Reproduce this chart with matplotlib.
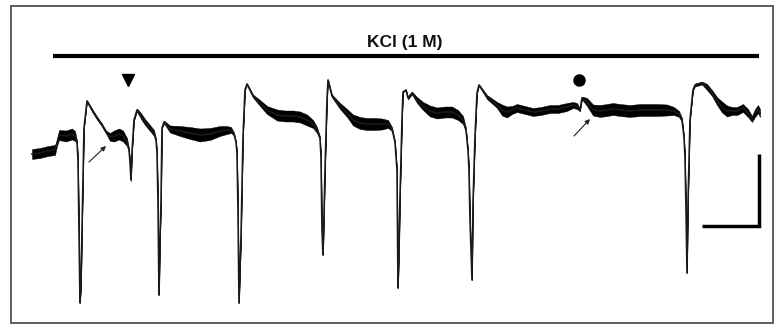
import matplotlib
matplotlib.use("Agg")
import matplotlib.pyplot as plt
from matplotlib.patches import Rectangle
import numpy as np

# ---- data (trace; y axis grows downward) ----
t = [32, 40, 48, 55, 57, 59, 66, 72, 75, 77, 78, 79, 80, 81, 82, 84, 87, 92, 97, 102,
     106, 110, 114, 119, 123, 127, 129, 130, 131, 132, 134, 137, 141, 145, 150, 154, 156,
     157, 158, 159, 160, 161, 162, 164, 170, 180, 190, 200, 210, 220, 227, 231, 234, 236,
     237, 238, 239, 240, 241, 243, 245, 247, 253, 260, 267, 277, 285, 293, 300, 307, 313,
     317, 320, 321, 322, 323, 324, 325, 327, 328, 332, 340, 347, 353, 360, 367, 375, 382,
     388, 392, 395, 397, 398, 399, 400, 402, 403, 406, 408, 412, 417, 423, 430, 437, 445,
     452, 458, 463, 466, 468, 469, 470, 472, 473, 475, 477, 479, 487, 497, 502, 507, 512,
     517, 525, 533, 541, 550, 558, 567, 573, 577, 580, 582, 587, 593, 600, 607, 613, 620,
     630, 640, 647, 657, 667, 674, 679, 682, 684, 685, 686, 687, 688, 689, 690, 693, 695,
     702, 707, 712, 717, 722, 727, 732, 737, 743, 748, 752, 755, 758, 760]
v = [154, 153, 151, 150, 143, 135, 136, 134, 136, 142, 160, 230, 303, 285, 230, 128, 101, 110, 118, 125,
     132, 137, 136, 134, 136, 142, 150, 162, 180, 152, 120, 110, 116, 122, 128, 133, 140,
     152, 202, 295, 240, 202, 128, 122, 129, 131, 133, 135, 134, 131, 130, 130, 134, 142,
     153, 210, 303, 270, 237, 137, 90, 84, 96, 103, 110, 115, 116, 116, 117, 120, 124,
     130, 138, 157, 230, 255, 215, 170, 100, 80, 96, 106, 113, 120, 123, 124, 124, 124,
     124, 129, 142, 170, 288, 250, 197, 120, 92, 90, 98, 93, 100, 106, 111, 113, 112,
     112, 115, 120, 130, 150, 170, 220, 280, 203, 137, 93, 85, 97, 105, 110, 112, 110,
     108, 110, 112, 111, 109, 109, 107, 105, 106, 110, 98, 102, 110, 111, 110, 109, 110,
     111, 110, 110, 110, 110, 111, 114, 120, 137, 157, 210, 273, 203, 160, 120, 90, 85,
     83, 87, 93, 101, 107, 111, 111, 111, 108, 113, 119, 113, 109, 113]
noise = [5, 5, 5, 5, 3, 5, 5.5, 5.5, 5, 1.5, 0, 0, 0, 0, 0, 0, 0.8, 1.5, 1.5, 1.5,
         1.5, 4, 5.5, 5.5, 5.5, 4, 1.5, 1.5, 1.5, 0.8, 0.8, 1.5, 3, 3, 3, 3, 1.5,
         0, 0, 0, 0, 0, 0, 1.5, 3.5, 5, 6, 6.5, 6, 5, 4, 3, 1.5, 0.8,
         0, 0, 0, 0, 0, 0, 0, 0.8, 1.5, 3, 4, 5.5, 5.5, 5.5, 5.5, 5.5, 4,
         3, 1.5, 0, 0, 0, 0, 0, 0, 0.8, 1.5, 3, 4, 5.5, 6, 6, 6, 5.5,
         4, 2, 0.8, 0, 0, 0, 0, 0, 0, 0.8, 1.5, 1.5, 3, 4, 5.5, 5.5, 5.5,
         5.5, 5, 4, 2, 0, 0, 0, 0, 0, 0, 0, 0.8, 2, 3, 5.5, 5.5, 4,
         4, 4, 4, 4, 4, 4, 4, 3, 3, 1.5, 1.5, 4, 5.5, 6, 6, 6, 6,
         6, 6, 6, 6, 5.5, 4, 3, 2, 0.8, 0, 0, 0, 0, 0, 0, 0.8, 1.5,
         1.5, 3, 3, 4, 5.5, 5.5, 4, 4, 4, 4, 3, 4, 4, 4]

bar_label = "KCl (1 M)"
arrow_tails = [(89, 162), (574, 136)]
arrow_heads = [(106, 146), (590, 119)]
event_triangle = (128, 80)
event_circle = (579, 80)

t = np.array(t, dtype=float)
v = np.array(v, dtype=float)
noise = np.array(noise, dtype=float)

fig = plt.figure(figsize=(7.75, 3.25), dpi=100)
ax = fig.add_axes([0, 0, 1, 1])
ax.set_xlim(0, 775)
ax.set_ylim(325, 0)
ax.axis("off")

# frame
ax.add_patch(Rectangle((10.5, 6), 762.5, 316.5, fill=False, ec="#505050", lw=1.3))

# trace
ax.fill_between(t, v - noise, v + noise, color="black", lw=0.3, edgecolor="black")
ax.plot(t, v, color="#1a1a1a", lw=1.2, solid_joinstyle="round")

# drug application bar + label
ax.plot([53, 759], [55.5, 55.5], color="black", lw=3, solid_capstyle="butt")
ax.text(405, 43, bar_label, ha="center", va="center", fontsize=12.5, fontweight="bold",
        family=["Liberation Sans", "DejaVu Sans"], color="#111111")

# event markers
ax.plot(*event_triangle, marker="v", color="black", markersize=8, linestyle="none")
ax.plot(*event_circle, marker="o", color="black", markersize=8, linestyle="none")

# arrows
for tail, head in zip(arrow_tails, arrow_heads):
    ax.annotate("", xy=head, xytext=tail,
                arrowprops=dict(arrowstyle="-|>", lw=0.8, color="#222222",
                                mutation_scale=7, shrinkA=0, shrinkB=0))

# scale bar
ax.plot([702, 759, 759], [226, 226, 154], color="black", lw=2.5,
        solid_joinstyle="miter", solid_capstyle="butt")

fig.savefig("out.png", dpi=100)
